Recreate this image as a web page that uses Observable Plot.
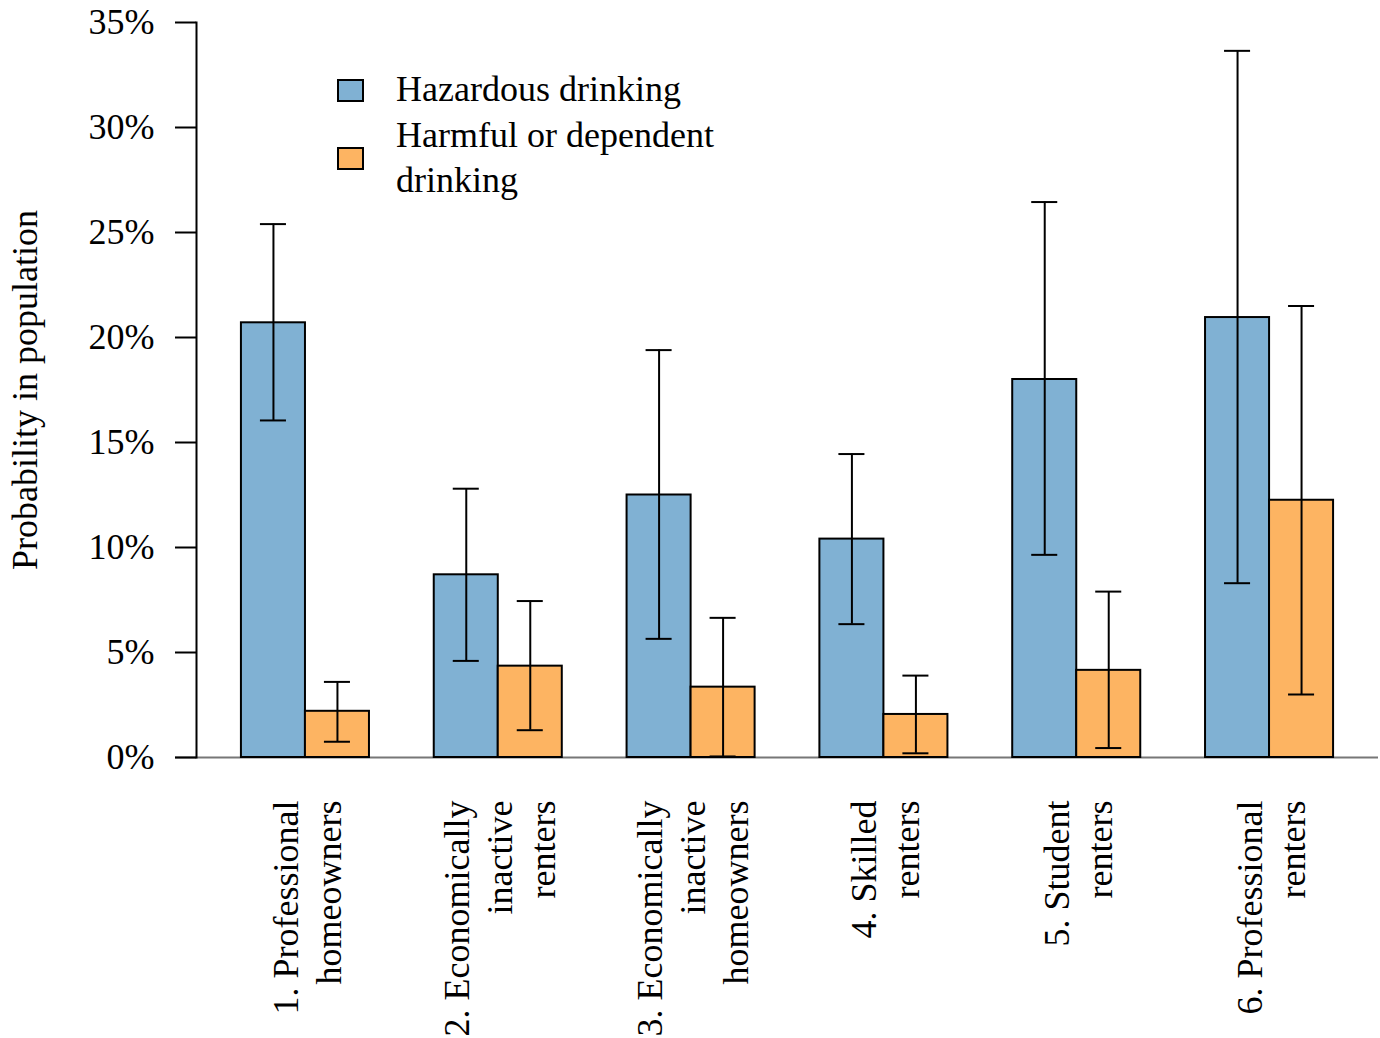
<!DOCTYPE html>
<html>
<head>
<meta charset="utf-8">
<script src="https://cdn.jsdelivr.net/npm/d3@7"></script>
<script src="https://cdn.jsdelivr.net/npm/@observablehq/plot@0.6"></script>
<style>
  html, body { margin: 0; padding: 0; background: #fff; overflow: hidden; }
  #wrap { position: relative; width: 1380px; height: 1038px; font-family: "Liberation Serif", "Times New Roman", serif; }
  .lg-sq { position: absolute; width: 27px; height: 23px; box-sizing: border-box; border: 2px solid #000; }
  .lg-tx { position: absolute; font-size: 36px; line-height: 45px; color: #000; white-space: nowrap; }
</style>
</head>
<body>
<div id="wrap"></div>
<script>
// ---- data (percent) ----
const groups = [
  "1. Professional\nhomeowners",
  "2. Economically\ninactive\nrenters",
  "3. Economically\ninactive\nhomeowners",
  "4. Skilled\nrenters",
  "5. Student\nrenters",
  "6. Professional\nrenters"
];
const seriesNames = ["Hazardous drinking", "Harmful or dependent drinking"];
const hazardous = [20.7, 8.7, 12.5, 10.4, 18.0, 20.95];
const hazardousLow = [16.05, 4.6, 5.65, 6.35, 9.65, 8.3];
const hazardousHigh = [25.4, 12.8, 19.4, 14.45, 26.45, 33.65];
const harmful = [2.2, 4.35, 3.35, 2.05, 4.15, 12.25];
const harmfulLow = [0.75, 1.3, 0.05, 0.2, 0.45, 3.0];
const harmfulHigh = [3.6, 7.45, 6.65, 3.9, 7.9, 21.5];
const yTicks = [0, 5, 10, 15, 20, 25, 30, 35];

const colors = ["#80B1D3", "#FDB462"];

const haz = groups.map((g, i) => ({group: g, value: hazardous[i], low: hazardousLow[i], high: hazardousHigh[i]}));
const harm = groups.map((g, i) => ({group: g, value: harmful[i], low: harmfulLow[i], high: harmfulHigh[i]}));

const half = 64;       // half of band width (px) -> one bar per half
const capInset = 51;   // cap width 26px out of 128px band

function errorMarks(data, dx) {
  return [
    Plot.ruleX(data, {x: "group", y1: "low", y2: "high", dx, stroke: "#000", strokeWidth: 2}),
    Plot.tickY(data, {x: "group", y: "low", dx, insetLeft: capInset, insetRight: capInset, stroke: "#000", strokeWidth: 2}),
    Plot.tickY(data, {x: "group", y: "high", dx, insetLeft: capInset, insetRight: capInset, stroke: "#000", strokeWidth: 2})
  ];
}

const chart = Plot.plot({
  width: 1380,
  height: 1038,
  marginLeft: 196,
  marginRight: 2,
  marginTop: 22,
  marginBottom: 281,
  style: {fontFamily: "'Liberation Serif', 'Times New Roman', serif", fontSize: "36px", color: "#000", background: "#fff"},
  x: {domain: groups, paddingInner: 0.336, paddingOuter: 0.233, round: false, axis: null},
  y: {domain: [0, 35], axis: null},
  marks: [
    Plot.ruleY([0], {stroke: "#777", strokeWidth: 2, insetLeft: -21}),
    Plot.frame({anchor: "left", stroke: "#000", strokeWidth: 2}),
    Plot.axisY({ticks: yTicks, tickFormat: d => d + "%", tickSize: 21, tickPadding: 21, strokeWidth: 2, fontSize: 36, label: null}),
    Plot.barY(haz, {x: "group", y: "value", fill: colors[0], stroke: "#000", strokeWidth: 2, insetRight: half}),
    Plot.barY(harm, {x: "group", y: "value", fill: colors[1], stroke: "#000", strokeWidth: 2, insetLeft: half}),
    ...errorMarks(haz, -half / 2),
    ...errorMarks(harm, half / 2),
    Plot.text(groups, {x: d => d, text: d => d, frameAnchor: "bottom", dy: 43, rotate: -90,
      textAnchor: "end", lineAnchor: "middle", lineHeight: 1.2, fontSize: 36, fill: "#000"}),
    Plot.text(["Probability in population"], {frameAnchor: "left", dx: -171, rotate: -90,
      textAnchor: "middle", lineAnchor: "middle", fontSize: 36, fill: "#000"})
  ]
});

const wrap = document.getElementById("wrap");
wrap.appendChild(chart);

// legend overlay
const legendItems = [
  {color: colors[0], lines: ["Hazardous drinking"], sqTop: 79, txTop: 67},
  {color: colors[1], lines: ["Harmful or dependent", "drinking"], sqTop: 147, txTop: 113}
];
legendItems.forEach(it => {
  const sq = document.createElement("div");
  sq.className = "lg-sq";
  sq.style.left = "337px";
  sq.style.top = it.sqTop + "px";
  sq.style.background = it.color;
  wrap.appendChild(sq);
  const tx = document.createElement("div");
  tx.className = "lg-tx";
  tx.style.left = "396px";
  tx.style.top = it.txTop + "px";
  tx.innerHTML = it.lines.join("<br>");
  wrap.appendChild(tx);
});
</script>
</body>
</html>
